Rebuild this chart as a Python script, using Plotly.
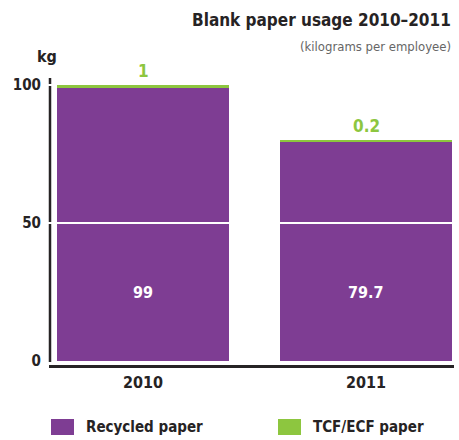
import plotly.graph_objects as go

years = ["2010", "2011"]
recycled = [99, 79.7]
tcf = [1, 0.2]
ytick_vals = [0, 50, 100]
inner_label_level = 25

PURPLE = "#7E3D93"
GREEN = "#8DC63F"
DARK = "#262324"
FONT = "Liberation Sans Narrow, DejaVu Sans Condensed, Arial Narrow, sans-serif"

# layout geometry (pixels)
W, H = 459, 440
ML, MR, MT, MB = 49, 6, 78, 79
pw, ph = W - ML - MR, H - MT - MB
px_per_unit_y = 2.76
px_per_cat = 223
center0 = 143
yr_top = ph / px_per_unit_y
xr = [-(center0 - ML) / px_per_cat, -(center0 - ML) / px_per_cat + pw / px_per_cat]
bar_w = 172 / px_per_cat

def px_x(x):
    return (x - ML) / pw

def px_y(y):
    return (H - MB - y) / ph

xs = list(range(len(years)))

fig = go.Figure()
fig.add_trace(go.Bar(x=xs, y=recycled, width=bar_w, marker=dict(color=PURPLE, line=dict(width=0)),
                     name="Recycled paper", hoverinfo="y"))
fig.add_trace(go.Bar(x=xs, y=tcf, width=bar_w, marker=dict(color=GREEN, line=dict(width=0)),
                     name="TCF/ECF paper", hoverinfo="y"))

annotations = []
for i, (r, t) in enumerate(zip(recycled, tcf)):
    annotations.append(dict(x=xs[i], y=inner_label_level, xref="x", yref="y", text=f"{r:g}", showarrow=False,
                            font=dict(family=FONT, size=16, color="white", weight="bold")))
    annotations.append(dict(x=xs[i], y=r + t, xref="x", yref="y", text=f"{t:g}", showarrow=False,
                            yanchor="middle", yshift=14,
                            font=dict(family=FONT, size=17, color=GREEN, weight="bold")))

annotations += [
    dict(x=px_x(453), y=px_y(20), xref="paper", yref="paper", xanchor="right", yanchor="middle",
         text="Blank paper usage 2010–2011", showarrow=False,
         font=dict(family=FONT, size=17, color=DARK, weight="bold")),
    dict(x=px_x(453), y=px_y(46), xref="paper", yref="paper", xanchor="right", yanchor="middle",
         text="(kilograms per employee)", showarrow=False,
         font=dict(family=FONT, size=13, color="#666666")),
    dict(x=px_x(47), y=px_y(57), xref="paper", yref="paper", xanchor="center", yanchor="middle",
         text="kg", showarrow=False,
         font=dict(family=FONT, size=16, color=DARK, weight="bold")),
]

# custom legend
legend_items = [("Recycled paper", PURPLE, 51), ("TCF/ECF paper", GREEN, 278)]
shapes = []
for label, col, x0 in legend_items:
    shapes.append(dict(type="rect", xref="paper", yref="paper", x0=px_x(x0), x1=px_x(x0 + 23),
                       y0=px_y(435), y1=px_y(419), fillcolor=col, line=dict(width=0)))
    annotations.append(dict(x=px_x(x0 + 33), y=px_y(427), xref="paper", yref="paper", xanchor="left",
                            yanchor="middle", text=label, showarrow=False,
                            font=dict(family=FONT, size=15, color=DARK, weight="bold")))

# axes lines
shapes += [
    dict(type="line", xref="paper", yref="paper", x0=px_x(50), x1=px_x(50), y0=px_y(362), y1=1,
         line=dict(color=DARK, width=2.5), layer="above"),
    dict(type="line", xref="paper", yref="paper", x0=px_x(49), x1=px_x(454), y0=px_y(366.5), y1=px_y(366.5),
         line=dict(color=DARK, width=3), layer="above"),
    # white grid break at 50 across everything
    dict(type="line", xref="paper", yref="y", x0=px_x(45), x1=1, y0=50, y1=50,
         line=dict(color="white", width=2), layer="above"),
    # white break in axis at 100
    dict(type="line", xref="paper", yref="y", x0=px_x(45), x1=px_x(54), y0=100, y1=100,
         line=dict(color="white", width=2), layer="above"),
]

fig.update_layout(
    width=W, height=H,
    margin=dict(l=ML, r=MR, t=MT, b=MB),
    barmode="stack",
    showlegend=False,
    plot_bgcolor="white", paper_bgcolor="white",
    annotations=annotations,
    shapes=shapes,
    xaxis=dict(range=xr, tickvals=xs, ticktext=years, showgrid=False, zeroline=False, showline=False,
               ticks="", ticklabelstandoff=10,
               tickfont=dict(family=FONT, size=16, color=DARK, weight="bold")),
    yaxis=dict(range=[0, yr_top], tickvals=ytick_vals, showgrid=False, zeroline=False, showline=False,
               ticks="", ticklabelstandoff=7,
               tickfont=dict(family=FONT, size=15, color=DARK, weight="bold")),
)

fig.write_html("out.html")
